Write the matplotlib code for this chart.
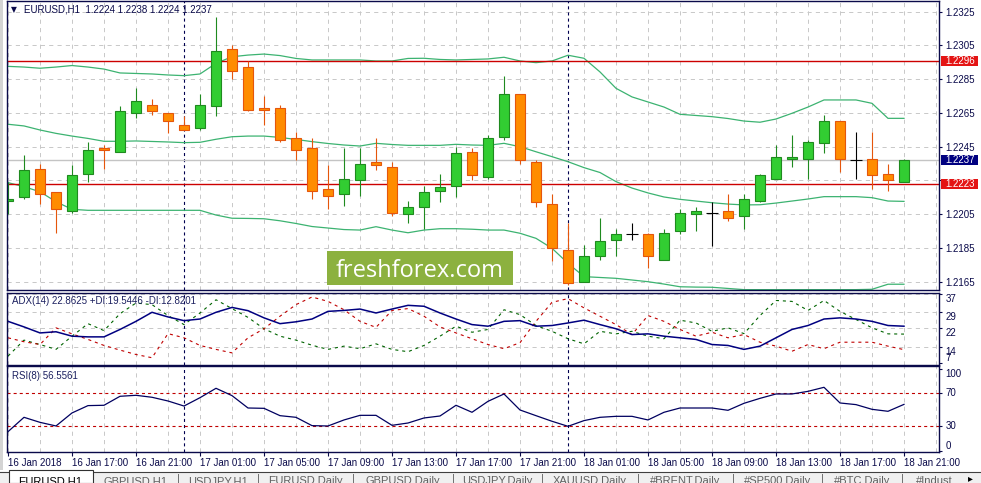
import matplotlib
matplotlib.use("Agg")
import matplotlib.pyplot as plt
import matplotlib.transforms as mtransforms
from matplotlib.patches import Rectangle
from matplotlib.lines import Line2D

W, H = 981, 483
plt.rcParams['font.family'] = ['Liberation Sans', 'DejaVu Sans']
plt.rcParams['lines.scale_dashes'] = False

# ---------------- data ----------------
symbol = "EURUSD,H1"
opens = [1.2213, 1.2215, 1.2232, 1.2218, 1.2207, 1.2229, 1.2244, 1.2242, 1.2265, 1.2270,
         1.2265, 1.2258, 1.2256, 1.2269, 1.2303, 1.2292, 1.2268, 1.2268, 1.2250, 1.2244,
         1.2220, 1.2217, 1.2225, 1.2236, 1.2233, 1.2205, 1.2209, 1.2219, 1.2222, 1.2242,
         1.2227, 1.2251, 1.2276, 1.2236, 1.2211, 1.2184, 1.2165, 1.2180, 1.2190, 1.2193,
         1.2193, 1.2178, 1.2195, 1.2205, 1.2206, 1.2207, 1.2204, 1.2213, 1.2226, 1.2238,
         1.2238, 1.2247, 1.2260, 1.2237, 1.2238, 1.2229, 1.2224]
highs = [1.2224, 1.2240, 1.2235, 1.2218, 1.2234, 1.2248, 1.2246, 1.2269, 1.2280, 1.2273,
         1.2265, 1.2263, 1.2276, 1.2322, 1.2305, 1.2296, 1.2275, 1.2270, 1.2254, 1.2250,
         1.2234, 1.2244, 1.2244, 1.2250, 1.2236, 1.2213, 1.2222, 1.2229, 1.2245, 1.2244,
         1.2252, 1.2287, 1.2276, 1.2237, 1.2217, 1.2200, 1.2187, 1.2203, 1.2196, 1.2200,
         1.2194, 1.2196, 1.2208, 1.2209, 1.2212, 1.2217, 1.2217, 1.2229, 1.2246, 1.2252,
         1.2249, 1.2264, 1.2260, 1.2254, 1.2254, 1.2235, 1.2238]
lows = [1.2205, 1.2214, 1.2211, 1.2194, 1.2206, 1.2224, 1.2232, 1.2242, 1.2262, 1.2264,
        1.2253, 1.2255, 1.2255, 1.2263, 1.2285, 1.2266, 1.2258, 1.2248, 1.2237, 1.2214,
        1.2208, 1.2210, 1.2216, 1.2231, 1.2204, 1.2200, 1.2196, 1.2212, 1.2215, 1.2225,
        1.2226, 1.2249, 1.2235, 1.2209, 1.2177, 1.2163, 1.2165, 1.2178, 1.2180, 1.2190,
        1.2173, 1.2178, 1.2193, 1.2195, 1.2186, 1.2201, 1.2196, 1.2212, 1.2226, 1.2233,
        1.2226, 1.2241, 1.2230, 1.2226, 1.2220, 1.2219, 1.2224]
closes = [1.2214, 1.2231, 1.2217, 1.2208, 1.2228, 1.2243, 1.2243, 1.2266, 1.2272, 1.2266,
          1.2260, 1.2255, 1.2270, 1.2302, 1.2290, 1.2267, 1.2267, 1.2249, 1.2243, 1.2219,
          1.2216, 1.2226, 1.2235, 1.2234, 1.2206, 1.2209, 1.2218, 1.2221, 1.2241, 1.2228,
          1.2250, 1.2276, 1.2237, 1.2212, 1.2185, 1.2164, 1.2180, 1.2189, 1.2193, 1.2193,
          1.2180, 1.2194, 1.2206, 1.2207, 1.2206, 1.2203, 1.2214, 1.2228, 1.2239, 1.2239,
          1.2248, 1.2260, 1.2238, 1.2237, 1.2228, 1.2225, 1.2237]

bb_upper = [1.22926, 1.22922, 1.22915, 1.22922, 1.22931, 1.22922, 1.22910, 1.22887, 1.22884, 1.22881,
            1.22875, 1.22871, 1.22881, 1.22944, 1.22983, 1.22993, 1.22999, 1.22990, 1.22973, 1.22964,
            1.22964, 1.22964, 1.22964, 1.22958, 1.22958, 1.22973, 1.22974, 1.22967, 1.22964, 1.22967,
            1.22970, 1.22980, 1.22958, 1.22948, 1.22958, 1.22992, 1.22974, 1.22893, 1.22796, 1.22745,
            1.22715, 1.22685, 1.22642, 1.22635, 1.22628, 1.22617, 1.22602, 1.22595, 1.22614, 1.22648,
            1.22685, 1.22727, 1.22727, 1.22727, 1.22707, 1.22618, 1.22618]
bb_middle = [1.22583, 1.22573, 1.22549, 1.22529, 1.22513, 1.22499, 1.22482, 1.22482, 1.22484, 1.22481,
             1.22478, 1.22474, 1.22476, 1.22494, 1.22509, 1.22513, 1.22513, 1.22505, 1.22493, 1.22480,
             1.22469, 1.22460, 1.22454, 1.22470, 1.22463, 1.22458, 1.22458, 1.22458, 1.22464, 1.22460,
             1.22458, 1.22470, 1.22450, 1.22420, 1.22391, 1.22361, 1.22326, 1.22297, 1.22243, 1.22205,
             1.22176, 1.22152, 1.22138, 1.22128, 1.22118, 1.22110, 1.22105, 1.22106, 1.22116, 1.22128,
             1.22140, 1.22154, 1.22154, 1.22154, 1.22148, 1.22128, 1.22126]
bb_lower = [1.22237, 1.22213, 1.22183, 1.22124, 1.22079, 1.22073, 1.22073, 1.22073, 1.22073, 1.22073,
            1.22073, 1.22073, 1.22073, 1.22045, 1.22026, 1.22025, 1.22023, 1.22011, 1.21995, 1.21977,
            1.21968, 1.21959, 1.21956, 1.21976, 1.21956, 1.21940, 1.21956, 1.21964, 1.21964, 1.21961,
            1.21956, 1.21956, 1.21937, 1.21907, 1.21848, 1.21759, 1.21680, 1.21675, 1.21670, 1.21660,
            1.21650, 1.21636, 1.21620, 1.21618, 1.21617, 1.21610, 1.21603, 1.21603, 1.21603, 1.21603,
            1.21603, 1.21603, 1.21603, 1.21603, 1.21605, 1.21635, 1.21635]

adx = [25.0, 22.6, 20.0, 20.5, 18.6, 18.3, 18.3, 21.5, 25.0, 28.9,
       26.9, 25.3, 26.0, 28.9, 31.0, 29.6, 26.5, 24.0, 24.8, 26.0,
       29.3, 29.7, 30.3, 28.6, 30.3, 31.9, 31.5, 28.6, 26.0, 23.6,
       22.9, 25.0, 25.3, 22.9, 23.2, 24.3, 25.5, 23.6, 21.8, 19.3,
       19.6, 18.6, 17.9, 17.2, 15.0, 14.6, 12.9, 14.3, 17.9, 21.5,
       23.2, 26.0, 26.5, 26.0, 25.0, 23.2, 22.9]
plus_di = [10.0, 16.9, 15.0, 12.9, 18.6, 24.0, 21.0, 28.3, 32.9, 32.2,
           27.5, 23.6, 28.6, 34.3, 30.5, 26.7, 21.8, 18.6, 16.9, 14.7,
           12.9, 14.3, 13.2, 15.3, 12.9, 11.9, 14.6, 18.6, 22.9, 20.3,
           21.5, 30.0, 27.9, 23.2, 20.7, 17.5, 15.3, 20.7, 19.6, 20.7,
           18.6, 17.5, 25.5, 24.3, 20.7, 22.2, 19.7, 27.5, 34.0, 33.6,
           29.7, 34.0, 29.3, 25.8, 22.2, 19.6, 19.5]
minus_di = [17.9, 16.2, 15.0, 22.2, 19.6, 17.2, 14.6, 12.6, 10.7, 9.3,
            19.7, 17.9, 14.6, 12.9, 11.4, 17.9, 21.8, 27.2, 32.2, 35.5,
            33.6, 30.0, 25.0, 22.4, 29.7, 30.5, 27.2, 22.6, 20.0, 17.5,
            15.0, 13.2, 15.8, 25.0, 33.2, 34.8, 30.8, 27.2, 23.6, 19.3,
            27.5, 25.0, 21.5, 18.6, 20.3, 17.9, 19.3, 16.0, 14.3, 12.1,
            15.0, 13.2, 16.0, 16.0, 16.0, 14.3, 12.8]
rsi = [23.5, 40.9, 34.8, 30.4, 46.2, 55.1, 55.5, 66.4, 67.6, 65.2,
       60.7, 54.6, 64.7, 76.1, 67.2, 52.2, 51.8, 42.9, 40.9, 30.8,
       30.4, 37.7, 43.3, 43.3, 31.2, 34.0, 40.1, 42.5, 55.5, 47.0,
       60.3, 69.2, 49.8, 42.9, 36.1, 30.0, 36.9, 40.9, 42.1, 42.1,
       37.7, 47.0, 52.2, 52.2, 52.2, 49.4, 57.9, 63.9, 69.2, 69.2,
       72.4, 77.3, 58.3, 56.3, 50.6, 48.2, 56.6]

adx_header = "ADX(14) 22.8625 +DI:19.5446 -DI:12.8201"
rsi_header = "RSI(8) 56.5561"

time_labels = ["16 Jan 2018", "16 Jan 17:00", "16 Jan 21:00", "17 Jan 01:00", "17 Jan 05:00",
               "17 Jan 09:00", "17 Jan 13:00", "17 Jan 17:00", "17 Jan 21:00", "18 Jan 01:00",
               "18 Jan 05:00", "18 Jan 09:00", "18 Jan 13:00", "18 Jan 17:00", "18 Jan 21:00"]
label_every = 4
day_separators = [11, 35]
price_ticks = [1.2325, 1.2305, 1.2285, 1.2265, 1.2245, 1.2225, 1.2205, 1.2185, 1.2165]
level_lines = [1.2296, 1.2223]
last_price = 1.2237
adx_ticks = [37, 29, 22, 14, 7]
rsi_ticks = [100, 70, 30, 0]
rsi_levels = [70, 30]
tabs = ["EURUSD,H1", "GBPUSD,H1", "USDJPY,H1", "EURUSD,Daily", "GBPUSD,Daily", "USDJPY,Daily",
        "XAUUSD,Daily", "#BRENT,Daily", "#SP500,Daily", "#BTC,Daily", "#Indust"]

# ---------------- style ----------------
NAVY = '#0a0a4a'
GRID = '#c8c8c8'
BULL, BULL_EDGE = '#32cd32', '#1f8a1f'
BEAR, BEAR_EDGE = '#ff8c00', '#e5560c'
BAND = '#3cb371'

fig = plt.figure(figsize=(W / 100, H / 100), dpi=100)
fig.patch.set_facecolor('white')


def px_axes(l, t, r, b):
    return fig.add_axes([l / W, 1 - b / H, (r - l) / W, (b - t) / H])


L, R = 7, 939
ax = px_axes(L, 1, R, 290)
ax_adx = px_axes(L, 292.7, R, 364.7)
ax_rsi = px_axes(L, 365.7, R, 451.7)

n = len(closes)
xs = list(range(n))
x_left, x_right = (L - 8) / 16, (R - 8) / 16

for a in (ax, ax_adx, ax_rsi):
    a.set_xlim(x_left, x_right)
    a.set_facecolor('white')
    for s in a.spines.values():
        s.set_color(NAVY)
        s.set_linewidth(1.0)
        s.set_zorder(8)
    for g in range(0, 60, 2):
        a.axvline(g, color=GRID, lw=0.7, ls=(0, (3, 3)), zorder=0)
    for sep in day_separators:
        a.axvline(sep, color='#000050', lw=0.8, ls=(0, (2.2, 2.2)), zorder=1)
    a.tick_params(axis='y', direction='out', length=2, width=0.8, color=NAVY,
                  labelsize=7, labelcolor=NAVY, pad=2.5)
    a.yaxis.tick_right()

# ---------------- main price panel ----------------
ax.set_ylim(1.216008, 1.233134)
ax.set_xticks([])
for p in price_ticks:
    ax.axhline(p, color=GRID, lw=0.7, ls=(0, (3, 3)), zorder=0)
ax.set_yticks(price_ticks)
# a tick label lying under a level marker is hidden by it (as in the terminal)
ax.set_yticklabels([
    "" if min(abs(p - v) for v in level_lines + [last_price]) < 0.0004 else f"{p:.4f}"
    for p in price_ticks])

ax.plot(xs, bb_upper, color=BAND, lw=0.9, zorder=2)
ax.plot(xs, bb_middle, color=BAND, lw=0.9, zorder=2)
ax.plot(xs, bb_lower, color=BAND, lw=0.9, zorder=2)

ax.axhline(last_price, color='#c4c4c4', lw=1.0, zorder=1)
for lv in level_lines:
    ax.axhline(lv, color='#cc0000', lw=1.0, zorder=2)

for i in range(n):
    o, h, l, c = opens[i], highs[i], lows[i], closes[i]
    if abs(c - o) < 1e-9:
        ax.vlines(i, l, h, color='black', lw=0.8, zorder=3)
        ax.hlines(o, i - 0.36, i + 0.36, color='black', lw=0.8, zorder=3)
        continue
    up = c > o
    edge = BULL_EDGE if up else BEAR_EDGE
    face = BULL if up else BEAR
    ax.vlines(i, l, h, color=edge, lw=0.8, zorder=3)
    ax.bar(i, abs(c - o), bottom=min(o, c), width=0.62, color=face,
           edgecolor=edge, linewidth=0.8, zorder=4)

trans = mtransforms.blended_transform_factory(fig.transFigure, ax.transData)
box_h = 10 / 16.875 * 0.001
for val, col in [(level_lines[0], '#e41414'), (level_lines[1], '#e41414'), (last_price, '#000080')]:
    ax.add_patch(Rectangle((941 / W, val - box_h / 2), 37 / W, box_h, transform=trans,
                           facecolor=col, edgecolor='none', clip_on=False, zorder=9))
    ax.text(945 / W, val, f"{val:.4f}", transform=trans, color='white', fontsize=7,
            ha='left', va='center', zorder=10, clip_on=False)

fig.text(11 / W, 1 - 10 / H, "\u25BC", fontsize=5.5, family='DejaVu Sans', color=NAVY,
         ha='left', va='center')
fig.text(24 / W, 1 - 10 / H,
         f"{symbol}  {opens[-1]:.4f} {highs[-1]:.4f} {lows[-1]:.4f} {closes[-1]:.4f}",
         fontsize=7, color=NAVY, ha='left', va='center')

# ---------------- ADX panel ----------------
ax_adx.set_ylim(6.3, 37.35)
ax_adx.set_xticks([])
for v in adx_ticks[:-1]:
    ax_adx.axhline(v, color=GRID, lw=0.7, ls=(0, (3, 3)), zorder=0)
ax_adx.plot(xs, plus_di, color='#006400', lw=0.8, ls=(0, (2.2, 2.8)), zorder=3)
ax_adx.plot(xs, minus_di, color='#c00000', lw=0.8, ls=(0, (2.2, 2.8)), zorder=3)
ax_adx.plot(xs, adx, color='#000080', lw=1.1, zorder=4)
ax_adx.set_yticks(adx_ticks)
ax_adx.set_yticklabels([str(v) for v in adx_ticks])
for lab, v in zip(ax_adx.get_yticklabels(), adx_ticks):
    lab.set_va('bottom' if v == adx_ticks[-1] else 'top')
ax_adx.text(12 / W, 1 - 301.5 / H, adx_header, transform=fig.transFigure, fontsize=7,
            color='#1c2060', ha='left', va='center', zorder=6)

# ---------------- RSI panel ----------------
ax_rsi.set_ylim(-0.8, 103.5)
for v in rsi_levels:
    ax_rsi.axhline(v, color='#c00000', lw=0.8, ls=(0, (2.2, 2.2)), zorder=1)
ax_rsi.plot(xs, rsi, color='#000060', lw=0.9, zorder=3)
ax_rsi.set_yticks(rsi_ticks)
ax_rsi.set_yticklabels([str(v) for v in rsi_ticks])
for lab, v in zip(ax_rsi.get_yticklabels(), rsi_ticks):
    lab.set_va('top' if v == max(rsi_ticks) else ('bottom' if v == min(rsi_ticks) else 'center'))
ax_rsi.text(12 / W, 1 - 376 / H, rsi_header, transform=fig.transFigure, fontsize=7,
            color='#1c2060', ha='left', va='center', zorder=6)

tick_pos = list(range(0, n, label_every))
ax_rsi.set_xticks(tick_pos)
ax_rsi.set_xticklabels(time_labels)
ax_rsi.tick_params(axis='x', direction='out', length=3, width=0.8, color=NAVY,
                   labelsize=7, labelcolor=NAVY, pad=1.5)
for lab in ax_rsi.get_xticklabels():
    lab.set_ha('left')

# ---------------- window chrome ----------------
fig.patches.append(Rectangle((0, 1 - 470 / H), 3 / W, 470 / H, transform=fig.transFigure,
                             facecolor='#d4d4d4', edgecolor='none', zorder=1))
fig.patches.append(Rectangle((0, 0), 1, 11 / H, transform=fig.transFigure,
                             facecolor='#f0f0f0', edgecolor='none', zorder=1))
fig.lines.append(Line2D([0, 1], [1 - 472 / H, 1 - 472 / H], transform=fig.transFigure,
                        color='#404040', lw=0.8, zorder=2))
seps = [8.5, 92.7, 177.7, 258, 352.7, 453, 541.7, 637.7, 733.3, 821.7, 901.7, 966]
fig.patches.append(Rectangle((seps[0] / W, 0), (seps[1] - seps[0]) / W, 13 / H,
                             transform=fig.transFigure, facecolor='white',
                             edgecolor='#303030', lw=0.8, zorder=3))
for k, name in enumerate(tabs):
    xc = (seps[k] + seps[k + 1]) / 2
    fig.text(xc / W, 1 - 476.5 / H, name, fontsize=8, ha='center', va='top',
             color='black' if k == 0 else '#606060', zorder=4)
    if k >= 1:
        fig.lines.append(Line2D([seps[k] / W] * 2, [0, 1 - 474 / H], transform=fig.transFigure,
                                color='#707070', lw=0.7, zorder=3))
fig.text(968 / W, 1 - 478 / H, "\u25B8", fontsize=7, family='DejaVu Sans', color='black',
         ha='left', va='center', zorder=4)

# watermark
fig.patches.append(Rectangle((327 / W, 1 - 285 / H), 185.7 / W, 34 / H, transform=fig.transFigure,
                             facecolor='#8cb13f', edgecolor='none', zorder=5))
fig.text(420 / W, 1 - 277 / H, "freshforex.com", fontsize=17, family='Open Sans',
         color='white', ha='center', va='baseline', zorder=6)

fig.savefig("out.png", dpi=100, facecolor='white')
